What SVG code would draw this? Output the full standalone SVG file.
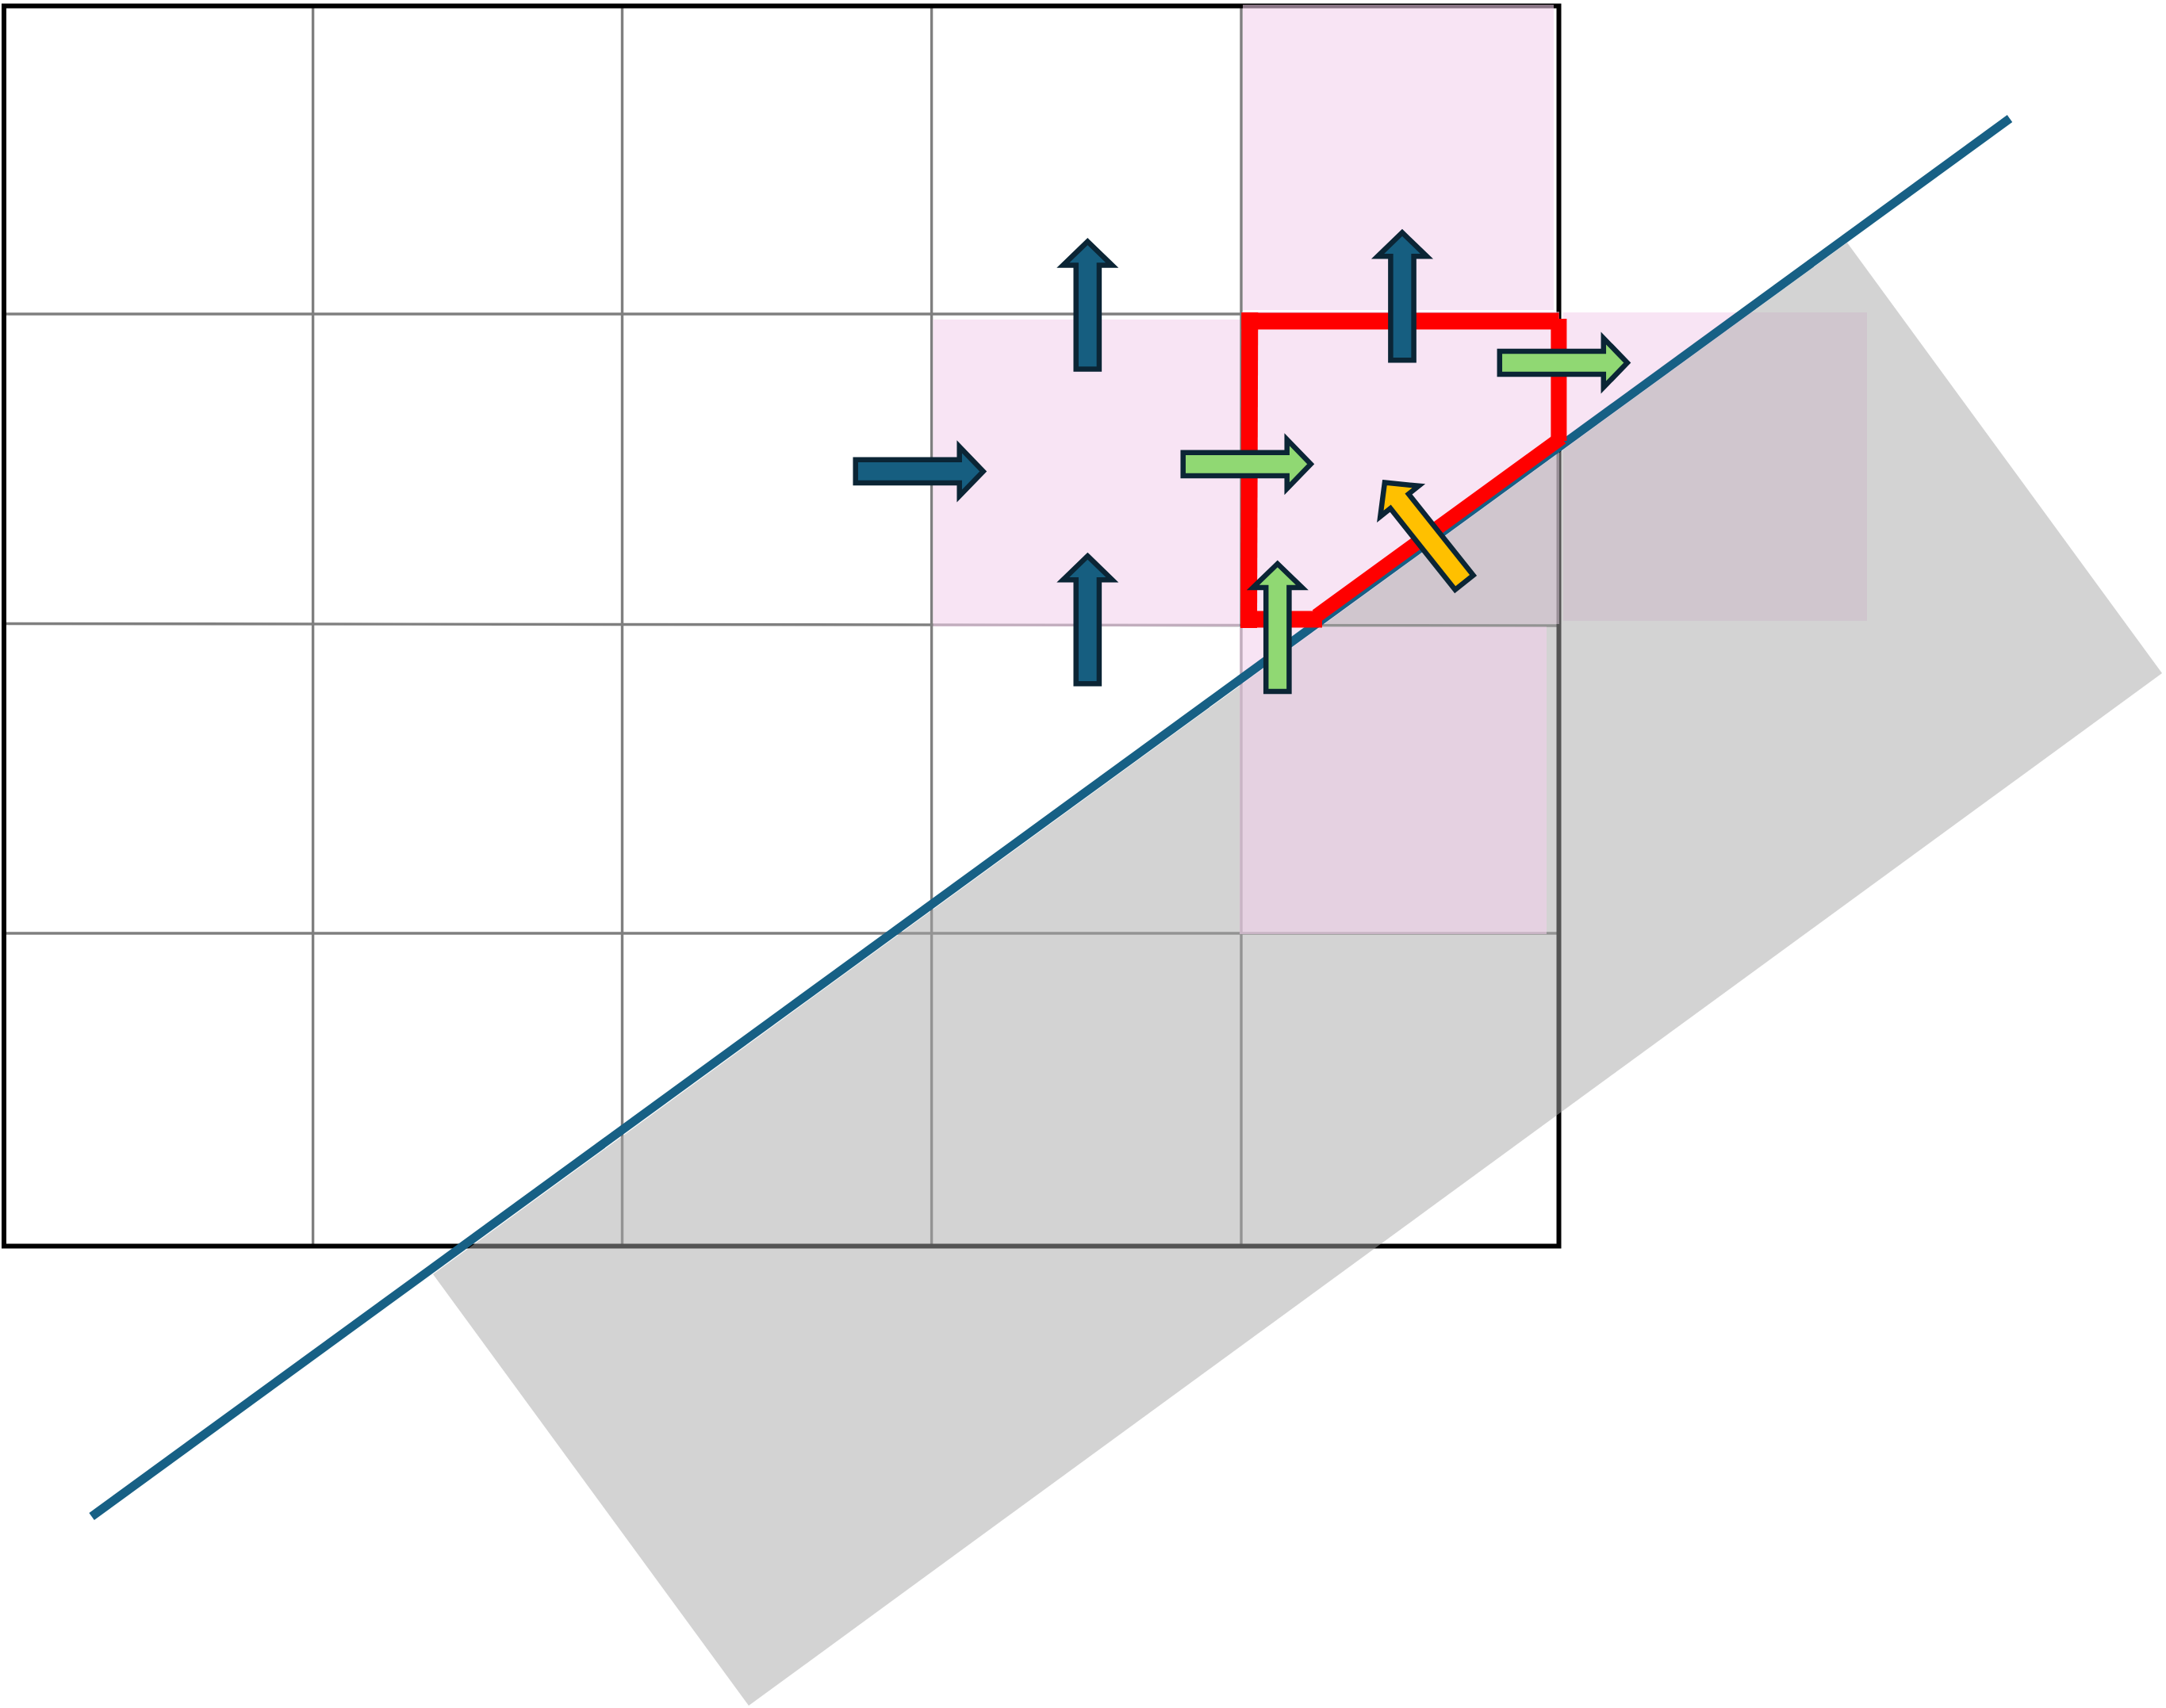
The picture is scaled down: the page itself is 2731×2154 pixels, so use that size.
<svg xmlns="http://www.w3.org/2000/svg" xmlns:xlink="http://www.w3.org/1999/xlink" width="2731" height="2154" viewBox="0 0 2731 2154">
  <style>
    .grid { stroke: #7F7F7F; stroke-width: 3.4; fill: none; }
    .border { stroke: #000000; stroke-width: 6; fill: none; }
    .pink { fill: rgb(243,207,236); fill-opacity: 0.57; }
    .shade { fill: rgb(168,168,168); fill-opacity: 0.5; }
    .red { stroke: #FF0000; fill: none; stroke-linecap: butt; }
    .arr { stroke: #0B2535; stroke-width: 6.5; stroke-linejoin: miter; stroke-miterlimit: 10; }
    .blue { fill: #165E80; }
    .green { fill: #90D873; }
    .yellow { fill: #FFC000; }
  </style>
  <defs>
    <path id="arrow" d="M0,0 L31,30 L14.6,30 L14.6,161 L-14.6,161 L-14.6,30 L-31,30 Z"/>
  </defs>
  <rect x="0" y="0" width="2731" height="2154" fill="#FFFFFF"/>

  <g id="grid">
    <line class="grid" x1="394.6" y1="7.5" x2="394.6" y2="1571.5"/>
    <line class="grid" x1="784.5" y1="7.5" x2="784.5" y2="1571.5"/>
    <line class="grid" x1="1174.6" y1="7.5" x2="1174.6" y2="1571.5"/>
    <line class="grid" x1="1565" y1="7.5" x2="1565" y2="1571.5"/>
    <line class="grid" x1="5" y1="396" x2="1965.5" y2="396"/>
    <line class="grid" x1="5" y1="786.5" x2="1965.5" y2="789"/>
    <line class="grid" x1="5" y1="1177" x2="1965.5" y2="1177"/>
    <rect class="border" x="5" y="7.5" width="1960.5" height="1564"/>
  </g>

  <g id="stencil-cells">
    <rect id="cell-top" class="pink" x="1567" y="6" width="392" height="385"/>
    <rect id="cell-left" class="pink" x="1176.5" y="403" width="386.5" height="387"/>
    <rect id="cell-center" class="pink" x="1566" y="393" width="400" height="394"/>
    <rect id="cell-right" class="pink" x="1971" y="394" width="383" height="389"/>
  </g>

  <g id="solid-region">
    <polygon class="shade" points="2329,306 2726,849 944,2151 546,1607"/>
  </g>

  <g id="cell-bottom-group">
    <rect id="cell-bottom" class="pink" x="1563" y="790.5" width="387" height="387.5"/>
  </g>

  <g id="connectors">
    <line id="boundary" x1="115.6" y1="1912.5" x2="2534" y2="149.5" stroke="#176085" stroke-width="11"/>
    <g id="cut-cell">
      <line class="red" x1="1565.5" y1="405" x2="1965.6" y2="405" stroke-width="21"/>
      <line class="red" x1="1965.4" y1="402" x2="1965.4" y2="556" stroke-width="20"/>
      <line class="red" x1="1969" y1="552" x2="1660" y2="776.7" stroke-width="18"/>
      <line class="red" x1="1564" y1="781" x2="1667" y2="781" stroke-width="21"/>
      <line class="red" x1="1575.8" y1="394" x2="1574.5" y2="792" stroke-width="21"/>
    </g>
  </g>

  <g id="arrows">
    <use id="arrow-blue-up-1" xlink:href="#arrow" class="arr blue" transform="translate(1371.3,304.6)"/>
    <use id="arrow-blue-up-2" xlink:href="#arrow" class="arr blue" transform="translate(1371.3,701.2)"/>
    <use id="arrow-blue-up-3" xlink:href="#arrow" class="arr blue" transform="translate(1768,293.3)"/>
    <use id="arrow-blue-right" xlink:href="#arrow" class="arr blue" transform="translate(1239.7,594.4) rotate(90)"/>
    <use id="arrow-green-right-1" xlink:href="#arrow" class="arr green" transform="translate(1652.7,585.3) rotate(90)"/>
    <use id="arrow-green-right-2" xlink:href="#arrow" class="arr green" transform="translate(2051.8,457.5) rotate(90)"/>
    <use id="arrow-green-up" xlink:href="#arrow" class="arr green" transform="translate(1610.8,711)"/>
    <use id="arrow-yellow" xlink:href="#arrow" class="arr yellow" transform="translate(1745.9,608.6) rotate(-38.5)"/>
  </g>
</svg>
